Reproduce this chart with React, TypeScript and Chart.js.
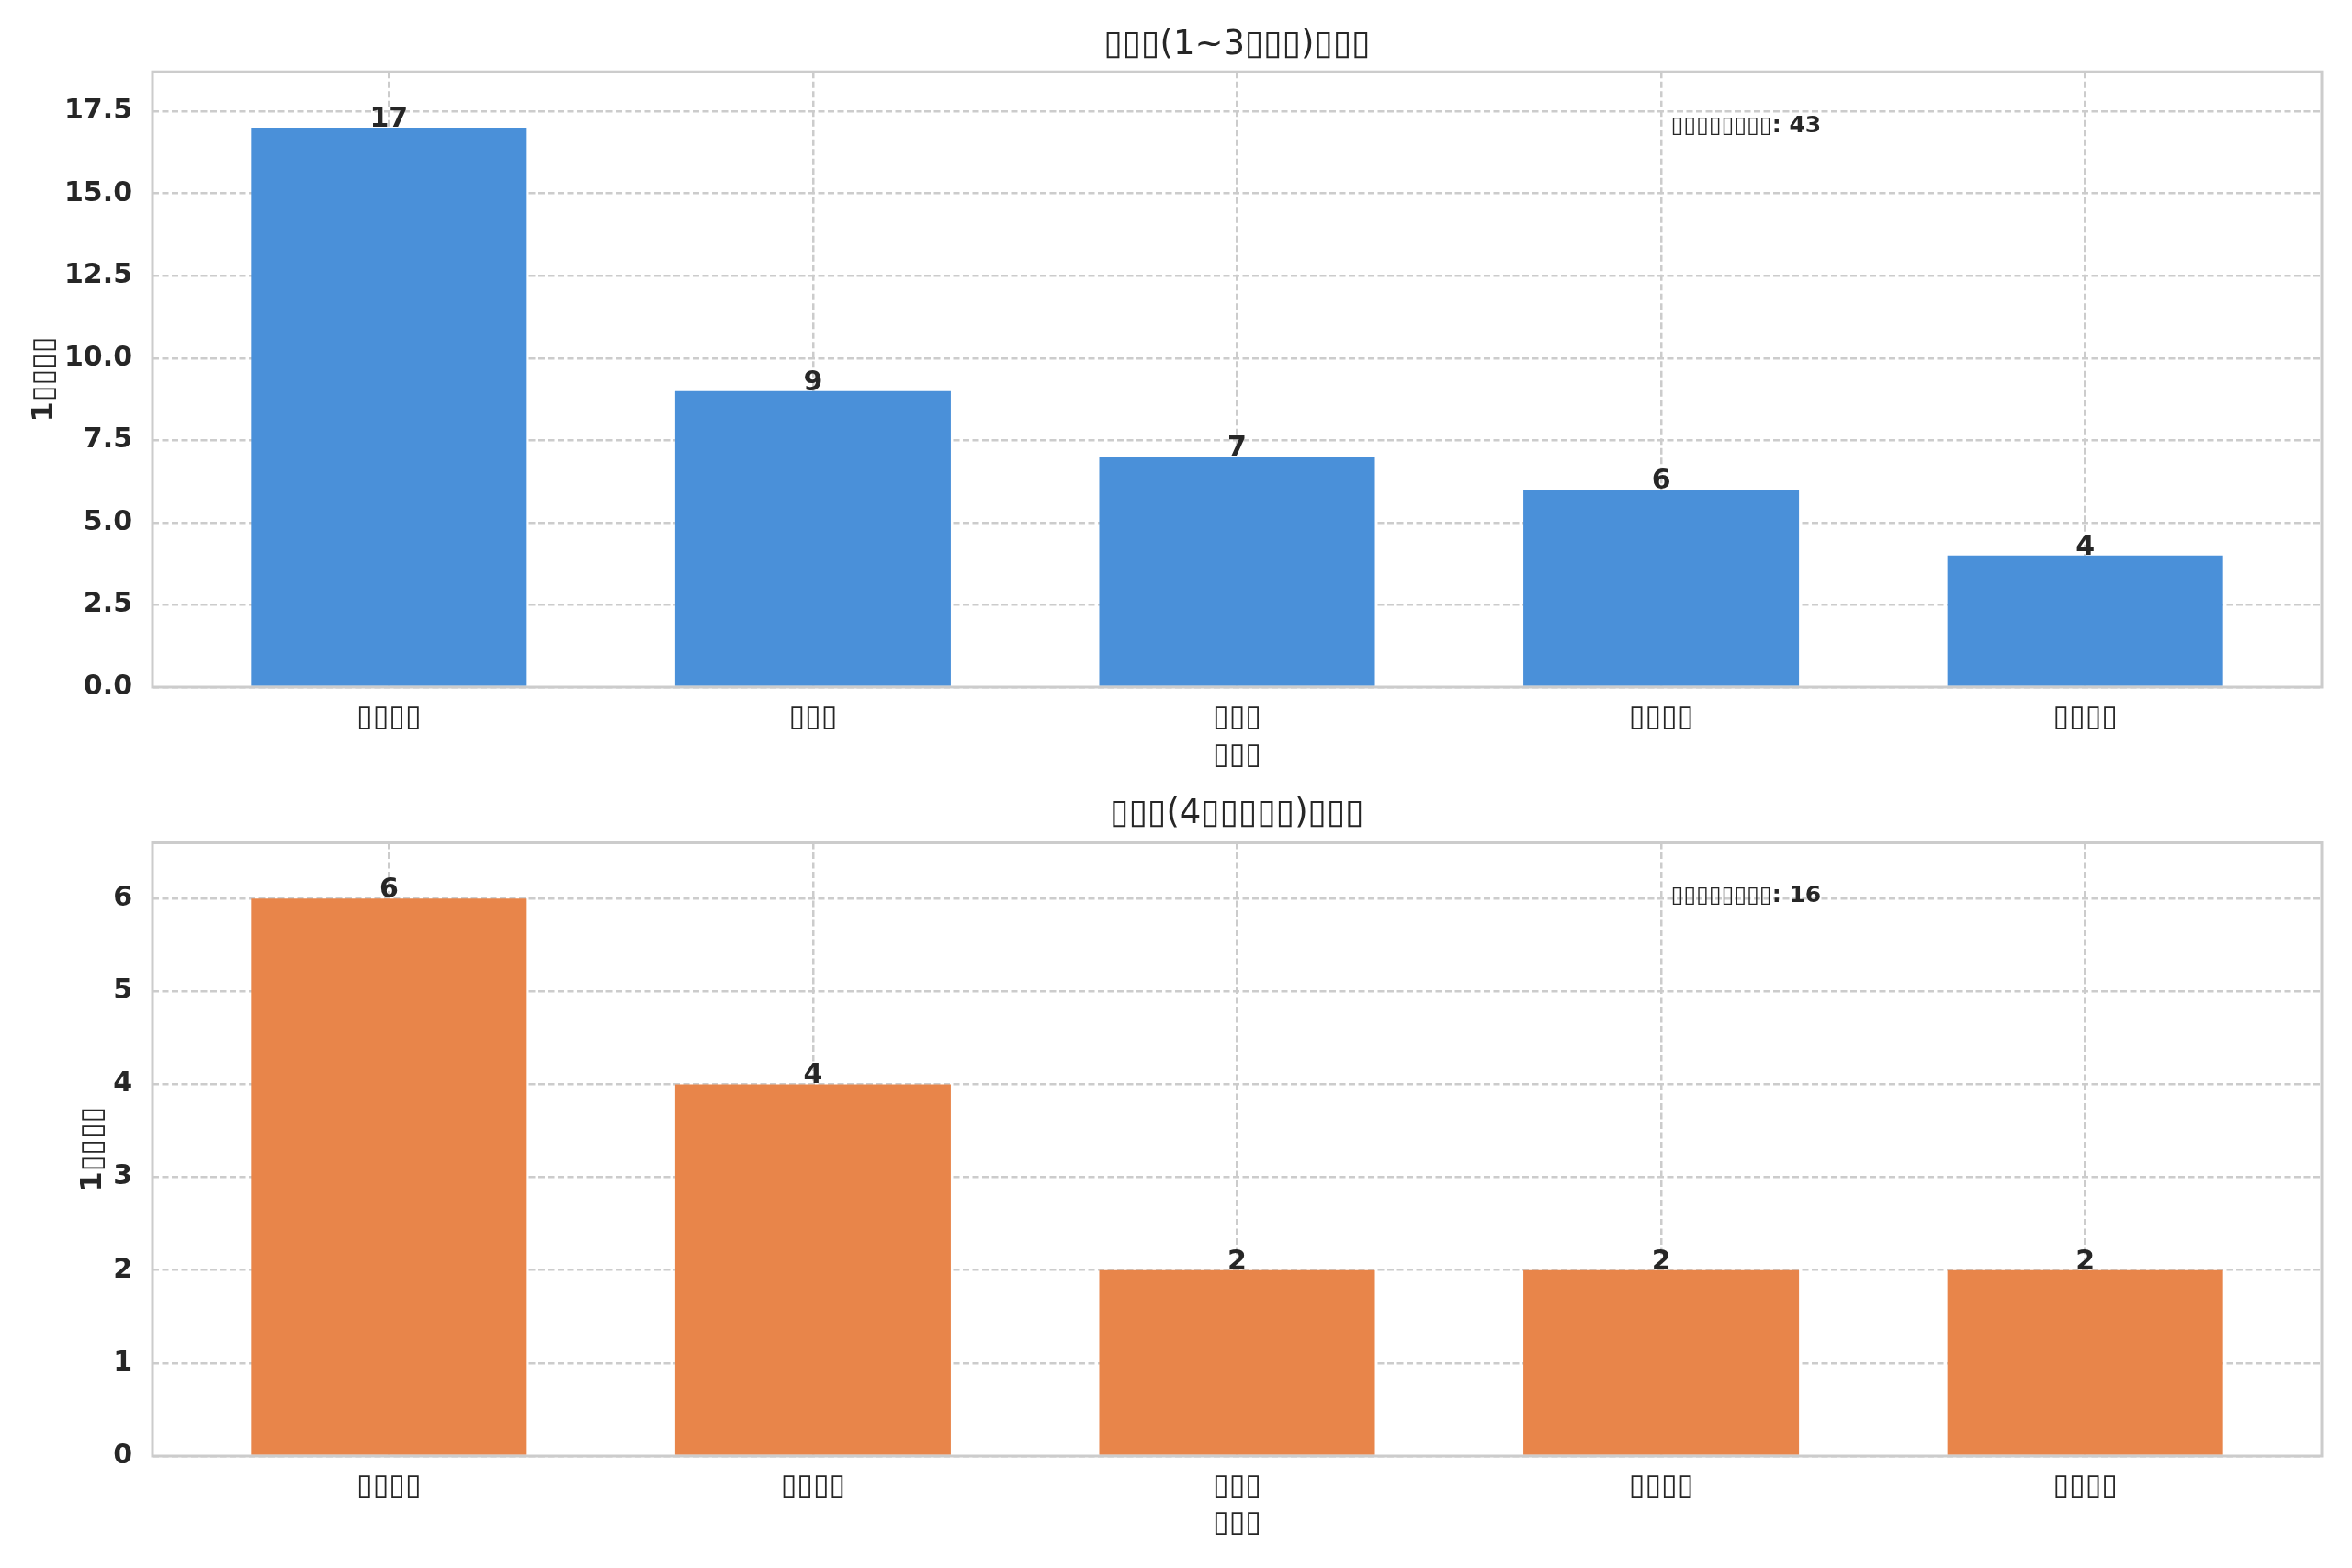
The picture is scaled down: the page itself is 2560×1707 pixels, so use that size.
import { useEffect, useRef } from 'react';
import { Chart, registerables } from 'chart.js';
import type { Plugin } from 'chart.js';

Chart.register(...registerables);

const FONT = '"DejaVu Sans", Verdana, sans-serif';
const TEXT = '#262626';
const GRID = '#cccccc';
const BAR_WIDTH = 0.65;

// the source renderer had no CJK font, so every kanji came out as an empty box
const lowerTitle = '▯▯▯(1~3▯▯▯)▯▯▯';
const upperTitle = '▯▯▯(4▯▯▯▯▯)▯▯▯';
const xAxisTitle = '▯▯▯';
const yAxisTitle = '1▯▯▯▯';
const totalText = '▯▯▯▯▯▯▯▯';

const lowerCategories = ['▯▯▯▯', '▯▯▯', '▯▯▯', '▯▯▯▯', '▯▯▯▯'];
const lowerCounts = [17, 9, 7, 6, 4];
const lowerTicks = [0, 2.5, 5, 7.5, 10, 12.5, 15, 17.5];

const upperCategories = ['▯▯▯▯', '▯▯▯▯', '▯▯▯', '▯▯▯▯', '▯▯▯▯'];
const upperCounts = [6, 4, 2, 2, 2];
const upperTicks = [0, 1, 2, 3, 4, 5, 6];

interface PanelProps {
  height: number;
  title: string;
  titleTop: number;
  titleBottom: number;
  categories: string[];
  values: number[];
  color: string;
  yTicks: number[];
  decimals: number;
  areaBottom: number;
  yTitlePad: number;
  xTickPad: number;
  xTitlePad: number;
  noteY: number;
}

function BarPanel(props: PanelProps) {
  const canvasRef = useRef<HTMLCanvasElement>(null);
  const chartRef = useRef<Chart | null>(null);

  useEffect(() => {
    if (!canvasRef.current) return;
    if (chartRef.current) chartRef.current.destroy();
    const ctx = canvasRef.current.getContext('2d');
    if (!ctx) return;

    const { categories, values } = props;
    const margin = 0.05 * (values.length - 1 + BAR_WIDTH);
    const total = values.reduce((a, b) => a + b, 0);

    const extras: Plugin<'bar'> = {
      id: 'extras',
      afterDatasetsDraw(chart) {
        const c = chart.ctx;
        const area = chart.chartArea;
        c.save();
        // bar values
        c.fillStyle = TEXT;
        c.font = `bold 30px ${FONT}`;
        c.textAlign = 'center';
        c.textBaseline = 'alphabetic';
        chart.getDatasetMeta(0).data.forEach((bar, i) => {
          c.fillText(String(values[i]), bar.x, bar.y - 1);
        });
        // total note
        c.font = `bold 25px ${FONT}`;
        c.textAlign = 'left';
        c.textBaseline = 'middle';
        c.fillText(`${totalText}: ${total}`, area.left + 0.7 * (area.right - area.left), area.top + props.noteY);
        // frame
        c.strokeStyle = GRID;
        c.lineWidth = 3;
        c.strokeRect(area.left, area.top, area.right - area.left, area.bottom - area.top);
        c.restore();
      },
    };

    chartRef.current = new Chart(ctx, {
      type: 'bar',
      data: {
        datasets: [{
          data: values.map((v, i) => ({ x: i, y: v })),
          backgroundColor: props.color,
          borderWidth: 0,
          barPercentage: BAR_WIDTH,
          categoryPercentage: 1,
        }],
      },
      options: {
        animation: false,
        responsive: false,
        devicePixelRatio: 1,
        layout: { padding: { left: 0, right: 33, top: 0, bottom: 0 } },
        plugins: {
          legend: { display: false },
          tooltip: { enabled: false },
          title: {
            display: true,
            fullSize: false,
            text: props.title,
            color: TEXT,
            font: { family: FONT, size: 37, weight: 'normal' },
            padding: { top: props.titleTop, bottom: props.titleBottom },
          },
        },
        scales: {
          x: {
            type: 'linear',
            offset: false,
            min: -BAR_WIDTH / 2 - margin,
            max: values.length - 1 + BAR_WIDTH / 2 + margin,
            afterBuildTicks: (axis) => {
              axis.ticks = categories.map((_, i) => ({ value: i }));
            },
            afterFit: (axis) => {
              axis.height = props.height - props.areaBottom;
            },
            ticks: {
              callback: (v) => categories[Number(v)],
              color: TEXT,
              font: { family: FONT, size: 32 },
              padding: props.xTickPad,
              maxRotation: 0,
              autoSkip: false,
            },
            grid: { color: GRID, lineWidth: 2.5, drawTicks: false, offset: false },
            border: { display: false, dash: [7, 3.5] },
            title: {
              display: true,
              text: xAxisTitle,
              color: TEXT,
              font: { family: FONT, size: 32 },
              padding: { top: 0, bottom: props.xTitlePad },
            },
          },
          y: {
            min: 0,
            max: Math.max(...values) * 1.1,
            afterBuildTicks: (axis) => {
              axis.ticks = props.yTicks.map((v) => ({ value: v }));
            },
            afterFit: (axis) => {
              axis.width = 166;
            },
            ticks: {
              callback: (v) => Number(v).toFixed(props.decimals),
              color: TEXT,
              font: { family: FONT, size: 30, weight: 'bold' },
              padding: 22,
            },
            grid: { color: GRID, lineWidth: 2.5, drawTicks: false },
            border: { display: false, dash: [7, 3.5] },
            title: {
              display: true,
              text: yAxisTitle,
              color: TEXT,
              font: { family: FONT, size: 32, weight: 'bold' },
              padding: { top: props.yTitlePad, bottom: 0 },
            },
          },
        },
      },
      plugins: [extras],
    });

    return () => {
      if (chartRef.current) {
        chartRef.current.destroy();
        chartRef.current = null;
      }
    };
  }, []);

  return <canvas ref={canvasRef} width={2560} height={props.height} style={{ display: 'block' }} />;
}

export default function App() {
  return (
    <div style={{ width: 2560, height: 1707, background: '#ffffff' }}>
      <style>{'body { margin: 0; }'}</style>
      <BarPanel
        height={853}
        title={lowerTitle}
        titleTop={27}
        titleBottom={6.8}
        categories={lowerCategories}
        values={lowerCounts}
        color="#4a90d9"
        yTicks={lowerTicks}
        decimals={1}
        areaBottom={748}
        yTitlePad={29}
        xTickPad={14}
        xTitlePad={11}
        noteY={59}
      />
      <BarPanel
        height={854}
        title={upperTitle}
        titleTop={11}
        titleBottom={9.1}
        categories={upperCategories}
        values={upperCounts}
        color="#e8854a"
        yTicks={upperTicks}
        decimals={0}
        areaBottom={732}
        yTitlePad={82}
        xTickPad={14}
        xTitlePad={29}
        noteY={58}
      />
    </div>
  );
}
